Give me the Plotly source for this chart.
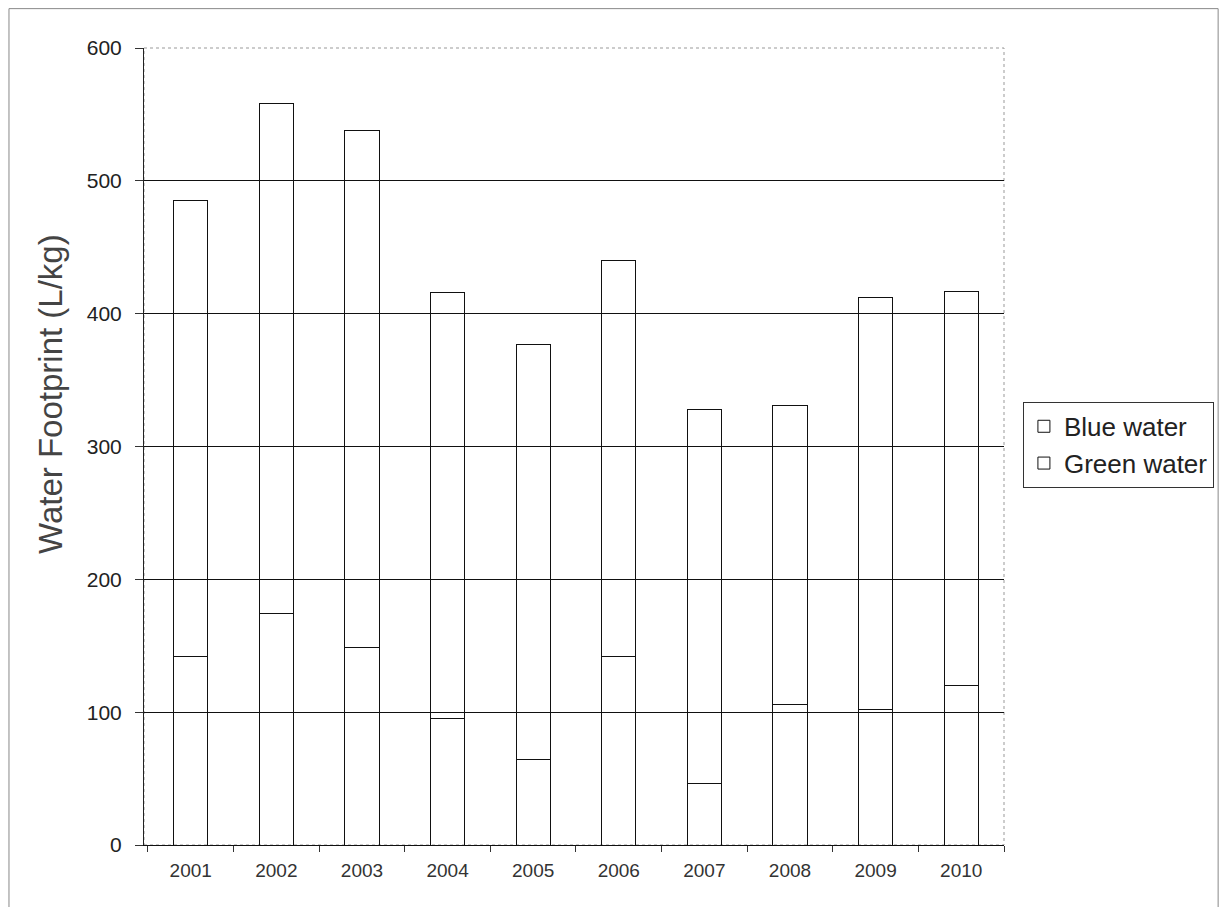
import plotly.graph_objects as go

years = ["2001", "2002", "2003", "2004", "2005", "2006", "2007", "2008", "2009", "2010"]
totals = [485, 558, 538, 416, 377, 440, 328, 331, 412, 417]
green_water = [142, 174, 149, 95, 64, 142, 46, 106, 102, 120]
blue_water = [t - g for t, g in zip(totals, green_water)]
y_ticks = [0, 100, 200, 300, 400, 500, 600]
grid_vals = [100, 200, 300, 400, 500]

font = "Liberation Sans, Arial, sans-serif"
fig = go.Figure()
fig.add_trace(go.Bar(x=years, y=green_water, name="Green water", legendgroup="g",
                     marker=dict(color="rgba(255,255,255,0)", line=dict(color="#111", width=1))))
fig.add_trace(go.Bar(x=years, y=blue_water, name="Blue water", legendgroup="b",
                     marker=dict(color="rgba(255,255,255,0)", line=dict(color="#111", width=1))))
# invisible trace to carry the grid axis
fig.add_trace(go.Scatter(x=[years[0]], y=[0], yaxis="y2", mode="markers",
                         marker=dict(opacity=0), showlegend=False, hoverinfo="skip"))

fig.update_layout(
    width=1229, height=907,
    margin=dict(l=136, r=233, t=40, b=70),
    paper_bgcolor="white", plot_bgcolor="white",
    barmode="stack", bargap=0.6,
    font=dict(family=font, color="#222"),
    showlegend=True,
    legend=dict(x=1.022, y=0.556, xanchor="left", yanchor="top",
                traceorder="reversed", bordercolor="#333", borderwidth=1,
                font=dict(size=26, color="#222"), itemwidth=30,
                tracegroupgap=4),
    xaxis=dict(type="category", showline=True, linecolor="#111", linewidth=1,
               ticks="outside", tickson="boundaries", ticklen=6, tickcolor="#333",
               ticklabelstandoff=8,
               tickfont=dict(size=19, color="#333"), showgrid=False),
    yaxis=dict(range=[0, 600], tickvals=y_ticks, showgrid=False, showline=True,
               linecolor="#222", linewidth=1, ticks="outside", ticklen=8, tickcolor="#333",
               ticklabelstandoff=9,
               tickfont=dict(size=21, color="#222"), zeroline=False),
    yaxis2=dict(range=[0, 600], overlaying="y", tickvals=grid_vals, showgrid=True,
                gridcolor="#111", gridwidth=1, showticklabels=False, ticks="",
                showline=False, zeroline=False),
    annotations=[
        dict(text="Water Footprint (L/kg)", xref="paper", yref="paper",
             x=-0.108, y=0.566, xanchor="center", yanchor="middle",
             textangle=-90, showarrow=False, font=dict(size=33, color="#444")),
    ],
    shapes=[
        dict(type="rect", xref="paper", yref="paper", x0=0, x1=1, y0=0, y1=1,
             line=dict(color="#999", width=1, dash="dot"), layer="below"),
        dict(type="rect", xref="paper", yref="paper", x0=-0.157, x1=1.249, y0=-0.1, y1=1.0494,
             line=dict(color="#888", width=1)),
    ],
)

fig.write_html("out.html")
